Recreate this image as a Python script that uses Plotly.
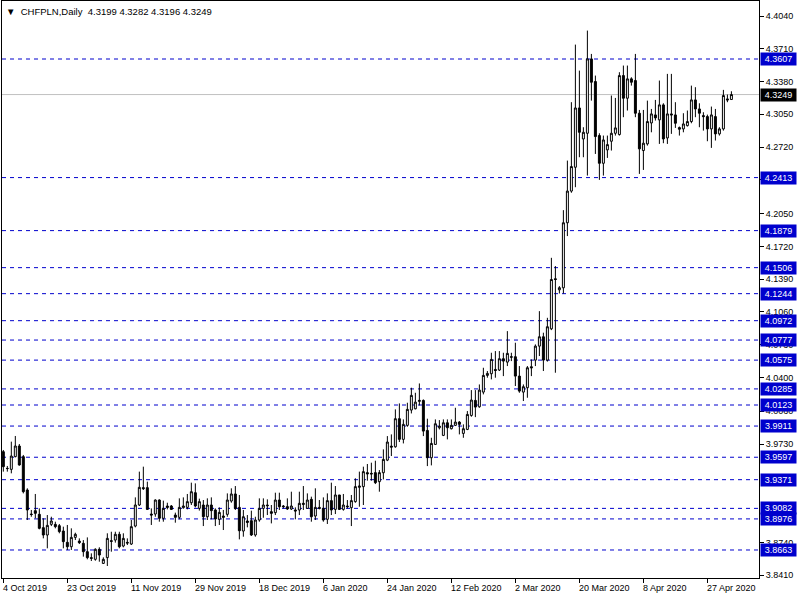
import plotly.graph_objects as go

# ---------------- data ----------------
open_ = [3.9653,3.9485,3.9475,3.9603,3.9710,3.9603,3.9267,3.9025,3.9059,3.9022,
         3.8888,3.8814,3.8921,3.8921,3.8908,3.8854,3.8740,3.8696,3.8790,3.8753,
         3.8730,3.8646,3.8586,3.8569,3.8670,3.8528,3.8586,3.8757,3.8763,3.8821,
         3.8703,3.8740,3.8723,3.8904,3.9116,3.9291,3.9291,3.9025,3.9025,3.9166,
         3.8982,3.9106,3.9106,3.9015,3.8992,3.9089,3.9092,3.9139,3.9240,3.9082,
         3.9116,3.8998,3.9116,3.9066,3.8972,3.9005,3.9022,3.9156,3.9227,3.9092,
         3.8854,3.8955,3.8958,3.8814,3.8965,3.9082,3.9116,3.9049,3.9039,3.9166,
         3.9106,3.9099,3.9076,3.9066,3.9066,3.9133,3.9082,3.9173,3.9005,3.9092,
         3.9082,3.8972,3.9160,3.9072,3.9217,3.9072,3.9106,3.9089,3.9150,3.9294,
         3.9301,3.9442,3.9435,3.9442,3.9351,3.9441,3.9568,3.9709,3.9702,3.9985,
         3.9777,3.9918,4.0072,4.0085,4.0159,4.0169,3.9867,3.9592,3.9726,3.9894,
         3.9817,3.9944,3.9884,3.9918,3.9951,3.9837,3.9877,4.0018,4.0169,4.0105,
         4.0253,4.0421,4.0438,4.0481,4.0475,4.0589,4.0555,4.0609,4.0609,4.0414,
         4.0253,4.0297,4.0508,4.0575,4.0716,4.0810,4.0575,4.0890,4.1394,4.1283,
         4.1303,4.1958,4.2277,4.2517,4.3114,4.2802,4.2859,4.3608,4.3380,4.2836,
         4.2557,4.2692,4.2779,4.2859,4.2846,4.3440,4.3212,4.3407,4.3390,4.3061,
         4.2685,4.2752,4.2963,4.3044,4.2994,4.3145,4.2812,4.3054,4.3044,4.2916,
         4.2903,4.2936,4.2977,4.3195,4.3104,4.3037,4.3027,4.2903,4.3027,4.2853,
         4.2903,4.3205,4.3199]
high = [3.9670,3.9509,3.9754,3.9811,3.9730,3.9620,3.9284,3.9066,3.9227,3.9082,
        3.8982,3.9015,3.8998,3.8948,3.8925,3.8898,3.8915,3.8881,3.8837,3.8780,
        3.8763,3.8790,3.8629,3.8680,3.8690,3.8589,3.8831,3.8847,3.8847,3.8847,
        3.8831,3.8780,3.8965,3.9193,3.9452,3.9502,3.9351,3.9082,3.9173,3.9173,
        3.9160,3.9139,3.9116,3.9039,3.9183,3.9193,3.9227,3.9341,3.9334,3.9180,
        3.9166,3.9183,3.9193,3.9082,3.9092,3.9066,3.9233,3.9284,3.9307,3.9217,
        3.9066,3.9015,3.9059,3.8998,3.9183,3.9183,3.9173,3.9116,3.9240,3.9240,
        3.9116,3.9183,3.9250,3.9092,3.9250,3.9307,3.9233,3.9200,3.9284,3.9166,
        3.9193,3.9233,3.9341,3.9307,3.9217,3.9227,3.9166,3.9217,3.9385,3.9452,
        3.9502,3.9529,3.9542,3.9562,3.9468,3.9676,3.9810,3.9827,4.0079,4.0139,
        3.9978,4.0146,4.0297,4.0246,4.0340,4.0179,3.9985,3.9793,3.9978,3.9971,
        3.9978,3.9978,3.9978,4.0095,3.9961,3.9928,4.0062,4.0273,4.0273,4.0330,
        4.0498,4.0465,4.0649,4.0666,4.0666,4.0649,4.0867,4.0649,4.0750,4.0515,
        4.0330,4.0515,4.0582,4.0733,4.1068,4.0851,4.1001,4.1605,4.1522,4.1320,
        4.2085,4.2584,4.3172,4.3752,4.3490,4.2920,4.3893,4.3658,4.3440,4.2859,
        4.2836,4.2836,4.3239,4.3215,4.3474,4.3541,4.3541,4.3423,4.3658,4.3094,
        4.3094,4.3188,4.3104,4.3195,4.3390,4.3161,4.3457,4.3457,4.3172,4.2927,
        4.3061,4.3088,4.3339,4.3323,4.3161,4.3071,4.3047,4.3128,4.3104,4.2920,
        4.3296,4.3249,4.3282]
low = [3.9452,3.9452,3.9435,3.9596,3.9512,3.9233,3.8965,3.8998,3.8982,3.8871,
       3.8780,3.8680,3.8904,3.8881,3.8831,3.8680,3.8663,3.8663,3.8763,3.8723,
       3.8596,3.8569,3.8552,3.8555,3.8545,3.8522,3.8502,3.8646,3.8737,3.8680,
       3.8690,3.8713,3.8713,3.8891,3.9106,3.9267,3.9066,3.8915,3.8998,3.8948,
       3.8948,3.9072,3.9066,3.8938,3.8972,3.9079,3.9072,3.9116,3.9092,3.9060,
       3.8904,3.8965,3.8972,3.8904,3.8915,3.8864,3.8998,3.9139,3.9066,3.8770,
       3.8797,3.8891,3.8804,3.8797,3.8948,3.8988,3.9015,3.8931,3.9015,3.9066,
       3.9082,3.9066,3.9066,3.8972,3.9015,3.9066,3.9082,3.8948,3.8965,3.9072,
       3.8948,3.8925,3.9015,3.9025,3.9066,3.9059,3.9082,3.8904,3.9139,3.9099,
       3.9116,3.9361,3.9361,3.9327,3.9250,3.9374,3.9558,3.9609,3.9693,3.9750,
       3.9736,3.9904,4.0038,4.0079,4.0119,3.9810,3.9508,3.9515,3.9726,3.9877,
       3.9810,3.9777,3.9877,3.9911,3.9827,3.9793,3.9870,4.0005,4.0001,4.0095,
       4.0230,4.0398,4.0381,4.0398,4.0465,4.0414,4.0515,4.0565,4.0314,4.0246,
       4.0163,4.0196,4.0414,4.0515,4.0616,4.0465,4.0560,4.0877,4.0448,4.1246,
       4.1246,4.1824,4.2260,4.2316,4.2618,4.2618,4.2433,4.3188,4.2651,4.2390,
       4.2433,4.2611,4.2685,4.2836,4.2836,4.3021,4.3088,4.3339,4.3021,4.2450,
       4.2490,4.2735,4.2869,4.2987,4.2752,4.2759,4.2752,4.2853,4.2913,4.2836,
       4.2869,4.2927,4.2960,4.3021,4.2920,4.2886,4.2779,4.2712,4.2786,4.2836,
       4.2886,4.3172,4.3196]
close = [3.9502,3.9483,3.9609,3.9710,3.9519,3.9250,3.9066,3.9020,3.9032,3.8881,
         3.8814,3.8911,3.8955,3.8898,3.8848,3.8747,3.8696,3.8790,3.8821,3.8737,
         3.8646,3.8586,3.8579,3.8670,3.8612,3.8569,3.8780,3.8750,3.8821,3.8696,
         3.8780,3.8733,3.8898,3.9116,3.9294,3.9281,3.9072,3.9015,3.9166,3.8982,
         3.9082,3.9092,3.9072,3.8992,3.9092,3.9106,3.9150,3.9250,3.9106,3.9150,
         3.8998,3.9116,3.9059,3.8975,3.9042,3.8992,3.9166,3.9227,3.9082,3.8857,
         3.8998,3.8941,3.8814,3.8965,3.9082,3.9116,3.9109,3.9032,3.9166,3.9099,
         3.9099,3.9076,3.9106,3.9056,3.9133,3.9123,3.9166,3.8998,3.9092,3.9082,
         3.8965,3.9160,3.9066,3.9217,3.9072,3.9116,3.9099,3.9160,3.9301,3.9307,
         3.9452,3.9429,3.9429,3.9341,3.9442,3.9575,3.9750,3.9699,3.9985,3.9777,
         3.9928,4.0079,4.0220,4.0152,4.0169,3.9860,3.9592,3.9736,3.9934,3.9911,
         3.9944,3.9894,3.9918,3.9951,3.9928,3.9884,4.0028,4.0173,4.0102,4.0273,
         4.0421,4.0441,4.0582,4.0471,4.0589,4.0565,4.0643,4.0605,4.0414,4.0263,
         4.0307,4.0498,4.0498,4.0716,4.0810,4.0575,4.0911,4.1387,4.1387,4.1304,
         4.1958,4.2277,4.2524,4.3114,4.2869,4.2869,4.3608,4.3373,4.2826,4.2557,
         4.2792,4.2745,4.2859,4.2913,4.3440,4.3212,4.3407,4.3373,4.3061,4.2702,
         4.2759,4.2977,4.3054,4.3014,4.3145,4.2802,4.3054,4.3044,4.2960,4.2900,
         4.2953,4.2977,4.3195,4.3104,4.3061,4.3027,4.2903,4.3044,4.2853,4.2903,
         4.3239,4.3195,4.3249]
bars = list(range(len(open_)))

date_tick_bars = [0, 16, 32, 48, 64, 80, 96, 112, 128, 144, 160, 176]
date_tick_labels = ["4 Oct 2019", "23 Oct 2019", "11 Nov 2019", "29 Nov 2019",
                    "18 Dec 2019", "6 Jan 2020", "24 Jan 2020", "12 Feb 2020",
                    "2 Mar 2020", "20 Mar 2020", "8 Apr 2020", "27 Apr 2020"]
price_ticks = [4.4040, 4.3710, 4.3380, 4.3050, 4.2720, 4.2390, 4.2050, 4.1720,
               4.1390, 4.1060, 4.0730, 4.0400, 4.0060, 3.9730, 3.8740, 3.8410]
levels = [4.3607, 4.2413, 4.1879, 4.1506, 4.1244, 4.0972, 4.0777, 4.0575,
          4.0285, 4.0123, 3.9911, 3.9597, 3.9371, 3.9082, 3.8976, 3.8663]
last_price = 4.3249
symbol_title = "CHFPLN,Daily"

# ---------------- styling ----------------
FONT = "Liberation Sans, Arial, sans-serif"
LEVEL_COLOR = "#0000CD"

fig = go.Figure()
fig.add_trace(go.Candlestick(
    x=bars, open=open_, high=high, low=low, close=close,
    increasing=dict(line=dict(color="black", width=1), fillcolor="white"),
    decreasing=dict(line=dict(color="black", width=1), fillcolor="black"),
    whiskerwidth=0, hoverinfo="skip", showlegend=False,
))

shapes = []
annotations = []
for lv in levels:
    shapes.append(dict(type="line", xref="paper", x0=0, x1=1, yref="y", y0=lv, y1=lv,
                       line=dict(color=LEVEL_COLOR, width=1, dash="4px,4px"), layer="below"))
    annotations.append(dict(xref="paper", x=1, xanchor="left", xshift=1,
                            yref="y", y=lv, yanchor="middle", text=f"{lv:.4f}",
                            showarrow=False, bgcolor=LEVEL_COLOR, borderpad=1,
                            width=33, height=10, align="center",
                            font=dict(family=FONT, size=9, color="white")))
shapes.append(dict(type="line", xref="paper", x0=0, x1=1, yref="y", y0=last_price, y1=last_price,
                   line=dict(color="#C0C0C0", width=1), layer="below"))
annotations.append(dict(xref="paper", x=1, xanchor="left", xshift=1,
                        yref="y", y=last_price, yanchor="middle", text=f"{last_price:.4f}",
                        showarrow=False, bgcolor="black", borderpad=1,
                        width=33, height=10, align="center",
                        font=dict(family=FONT, size=9, color="white")))

for b, lab in zip(date_tick_bars, date_tick_labels):
    annotations.append(dict(xref="x", x=b, xanchor="left", xshift=-2,
                            yref="paper", y=0, yanchor="top", yshift=-3,
                            text=lab, showarrow=False,
                            font=dict(family=FONT, size=9, color="black")))

annotations.append(dict(xref="paper", x=0, xanchor="left", xshift=2,
                        yref="paper", y=1, yanchor="top", yshift=-3,
                        text=f"▼  {symbol_title}  {open_[-1]:.4f} {high[-1]:.4f} {low[-1]:.4f} {close[-1]:.4f}",
                        showarrow=False, font=dict(family=FONT, size=9.5, color="black")))

fig.update_layout(
    width=800, height=600,
    margin=dict(l=2, r=41, t=1, b=22),
    paper_bgcolor="white", plot_bgcolor="white",
    font=dict(family=FONT, size=9, color="black"),
    shapes=shapes, annotations=annotations,
    showlegend=False, hovermode=False,
    xaxis=dict(range=[-0.33, 188.9], rangeslider=dict(visible=False),
               showgrid=False, zeroline=False,
               tickmode="array", tickvals=date_tick_bars, showticklabels=False,
               ticks="outside", ticklen=4, tickcolor="black",
               showline=True, linecolor="black", linewidth=1, mirror=True),
    yaxis=dict(range=[3.8381, 4.4191], side="right",
               showgrid=False, zeroline=False,
               tickmode="array", tickvals=price_ticks,
               ticktext=[f"{t:.4f}" for t in price_ticks],
               ticks="outside", ticklen=4, tickcolor="black",
               tickfont=dict(family=FONT, size=9, color="black"),
               showline=True, linecolor="black", linewidth=1, mirror=True),
)

fig.write_html("out.html", config={"displayModeBar": False},
               post_script="document.body.style.margin='0px';document.body.style.overflow='hidden';")
